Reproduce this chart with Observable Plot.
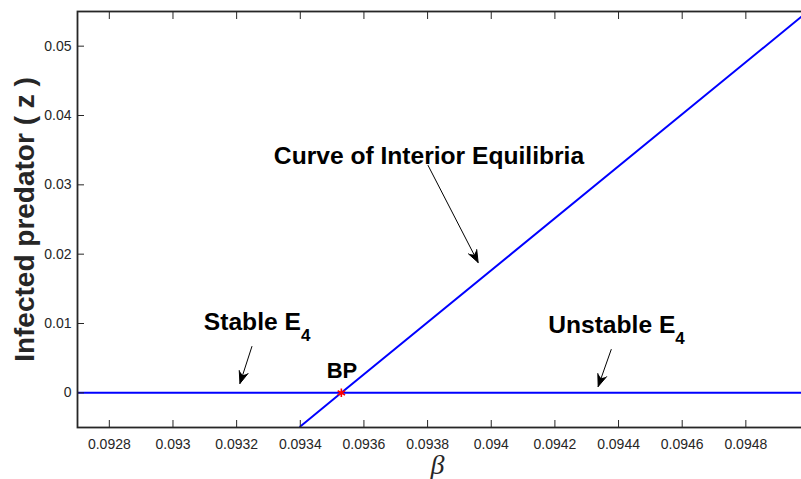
<!DOCTYPE html>
<html><head><meta charset="utf-8">
<script src="https://cdn.jsdelivr.net/npm/d3@7"></script>
<script src="https://cdn.jsdelivr.net/npm/@observablehq/plot@0.6"></script>
<style>html,body{margin:0;padding:0;overflow:hidden;background:#fff;}</style>
</head><body><div id="chart"></div>
<script>
// ---- data ----
const xDomain = [0.0927, 0.095];
const yDomain = [-0.005, 0.055];
const xTicks = [0.0928, 0.093, 0.0932, 0.0934, 0.0936, 0.0938, 0.094, 0.0942, 0.0944, 0.0946, 0.0948];
const yTicks = [0, 0.01, 0.02, 0.03, 0.04, 0.05];
const boundaryBeta = [0.0927, 0.095];          // E4 branch (z = 0)
const boundaryZ = [0, 0];
const interiorBeta = [0.0934, 0.093529, 0.095]; // curve of interior equilibria
const interiorZ = [-0.00485, 0, 0.0552];
const bpBeta = [0.093529];
const bpZ = [0];
const labelTexts = ["Curve of Interior Equilibria", "Stable E₄", "Unstable E₄"];
const labelBeta = [0.093317, 0.093097, 0.094179];
const labelZ = [0.03419, 0.01025, 0.00981];
const bpText = ["BP"];
const bpTextBeta = [0.093531];
const bpTextZ = [0.00318];
const arrowBeta1 = [0.0938016, 0.093248, 0.094377];
const arrowZ1 = [0.03279, 0.00668, 0.00625];
const arrowBeta2 = [0.0939588, 0.0932104, 0.094336];
const arrowZ2 = [0.01880, 0.00135, 0.00091];
const xLabel = "β";
const yLabel = "Infected predator ( z )";

// ---- tables ----
const boundary = boundaryBeta.map((b, i) => ({b, z: boundaryZ[i]}));
const interior = interiorBeta.map((b, i) => ({b, z: interiorZ[i]}));
const bp = bpBeta.map((b, i) => ({b, z: bpZ[i]}));
const labels = labelTexts.map((t, i) => ({t, b: labelBeta[i], z: labelZ[i]}));
const bpLabels = bpText.map((t, i) => ({t, b: bpTextBeta[i], z: bpTextZ[i]}));
const arrows = arrowBeta1.map((b, i) => ({b1: b, z1: arrowZ1[i], b2: arrowBeta2[i], z2: arrowZ2[i]}));

const svg = Plot.plot({
  width: 801,
  height: 479,
  marginLeft: 77,
  marginRight: -8,
  marginTop: 11,
  marginBottom: 52,
  style: {fontFamily: "'Liberation Sans', Arial, sans-serif", color: "#262626", background: "#fff", overflow: "hidden"},
  x: {domain: xDomain},
  y: {domain: yDomain},
  marks: [
    Plot.line(boundary, {x: "b", y: "z", stroke: "#0000ff", strokeWidth: 2, clip: true}),
    Plot.line(interior, {x: "b", y: "z", stroke: "#0000ff", strokeWidth: 2, clip: true}),
    Plot.dot(bp, {x: "b", y: "z", symbol: "asterisk", r: 4, stroke: "#ff0000", strokeWidth: 1.6}),
    Plot.axisX({anchor: "bottom", ticks: xTicks, tickSize: -7, tickPadding: 19, tickFormat: d => String(d), fontSize: 14, label: null}),
    Plot.axisX({anchor: "top", ticks: xTicks, tickSize: -7, tickFormat: () => "", label: null}),
    Plot.axisY({anchor: "left", ticks: yTicks, tickSize: -7, tickPadding: 13, tickFormat: d => String(d), fontSize: 14, label: null}),
    Plot.axisY({anchor: "right", ticks: yTicks, tickSize: -7, tickFormat: () => "", label: null}),
    Plot.frame({stroke: "#262626", strokeWidth: 1.8}),
    Plot.arrow(arrows, {x1: "b1", y1: "z1", x2: "b2", y2: "z2", stroke: "#000", strokeWidth: 1, headLength: 19.5, headAngle: 42}),
    Plot.text(labels, {x: "b", y: "z", text: "t", textAnchor: "start", lineAnchor: "middle", fontSize: 24.6, fontWeight: "bold", fill: "#000"}),
    Plot.text(bpLabels, {x: "b", y: "z", text: "t", textAnchor: "middle", lineAnchor: "middle", fontSize: 22, fontWeight: "bold", fill: "#000"}),
    Plot.text([xLabel], {frameAnchor: "bottom", dy: 38, dx: -6, lineAnchor: "middle", fontSize: 28, fontStyle: "italic", fontFamily: "'Liberation Serif', serif", fill: "#262626"}),
    Plot.text([yLabel], {frameAnchor: "left", dx: -52, rotate: -90, textAnchor: "middle", lineAnchor: "middle", fontSize: 28, fontWeight: "bold", fill: "#262626"})
  ]
});

// filled arrowheads (MATLAB-style)
svg.querySelectorAll('g[aria-label="arrow"] path').forEach(p => {
  const n = (p.getAttribute("d").match(/-?\d*\.?\d+(?:e[-+]?\d+)?/gi) || []).map(Number);
  if (n.length < 10) return;
  const tx = n[2], ty = n[3], ax = n[4], ay = n[5], bx = n[8], by = n[9];
  const mx = (ax + bx) / 2, my = (ay + by) / 2;
  const nx = tx + 0.72 * (mx - tx), ny = ty + 0.72 * (my - ty);
  const head = document.createElementNS("http://www.w3.org/2000/svg", "path");
  head.setAttribute("d", `M${tx},${ty}L${ax},${ay}L${nx},${ny}L${bx},${by}Z`);
  head.setAttribute("fill", "#000");
  head.setAttribute("stroke", "none");
  p.parentNode.appendChild(head);
});

// subscripts
svg.querySelectorAll("text").forEach(t => {
  if (t.children.length === 0 && t.textContent.includes("₄")) {
    const pre = t.textContent.split("₄")[0];
    t.textContent = pre;
    const ts = document.createElementNS("http://www.w3.org/2000/svg", "tspan");
    ts.setAttribute("dy", "11");
    ts.setAttribute("font-size", "17");
    ts.textContent = "4";
    t.appendChild(ts);
  }
});

document.getElementById("chart").appendChild(svg);
</script>
</body></html>
